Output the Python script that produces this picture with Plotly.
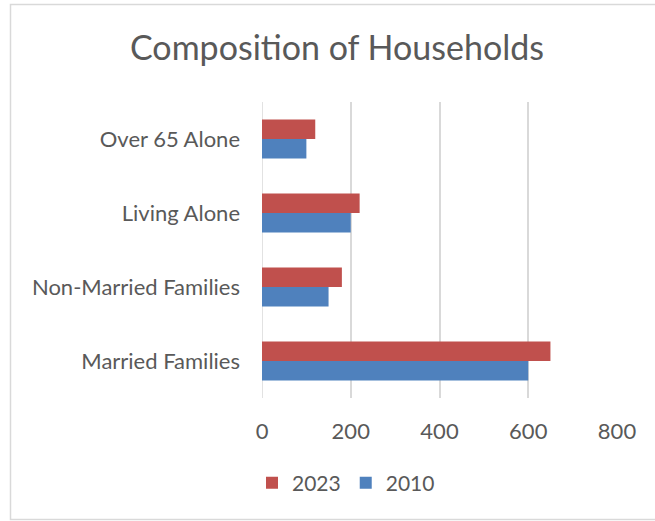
import plotly.graph_objects as go

categories = ["Married Families", "Non-Married Families", "Living Alone", "Over 65 Alone"]
values_2010 = [600, 150, 200, 100]
values_2023 = [650, 180, 220, 120]
x_ticks = [0, 200, 400, 600, 800]

W, H = 655, 521
L, R, T, B = 262, 38, 102, 123
pw, ph = W - L - R, H - T - B

def px_x(p):
    return (p - L) / pw

def px_y(p):
    return 1 - (p - T) / ph

font_family = "Lato, Open Sans, sans-serif"
text_color = "#595959"
grid_color = "#D9D9D9"

fig = go.Figure()
fig.add_trace(go.Bar(y=categories, x=values_2010, name="2010", orientation="h",
                     marker=dict(color="#4F81BD", line=dict(width=0))))
fig.add_trace(go.Bar(y=categories, x=values_2023, name="2023", orientation="h",
                     marker=dict(color="#C0504D", line=dict(width=0))))

fig.update_layout(
    width=W, height=H,
    margin=dict(l=L, r=R, t=T, b=B, pad=0),
    paper_bgcolor="white", plot_bgcolor="white",
    barmode="group", bargap=0.47, bargroupgap=0,
    font=dict(family=font_family, color=text_color, size=22),
    title=dict(text="Composition of Households", x=337 / W, xref="container", xanchor="center",
               y=1 - 48 / H, yanchor="middle",
               font=dict(size=34, color=text_color, family=font_family)),
    showlegend=True,
    legend=dict(orientation="h", x=px_x(252), xanchor="left", y=px_y(483), yanchor="middle",
                traceorder="reversed", font=dict(size=21, color=text_color),
                itemwidth=30, bgcolor="rgba(0,0,0,0)"),
    xaxis=dict(range=[0, 800], tickvals=x_ticks, showgrid=True, gridcolor=grid_color,
               gridwidth=1.5, zeroline=False, showline=False, ticks="",
               ticklabelstandoff=18, tickfont=dict(size=22, color=text_color)),
    yaxis=dict(showgrid=False, zeroline=False, showline=False, ticks="",
               ticklabelstandoff=21, tickfont=dict(size=22, color=text_color)),
    shapes=[
        dict(type="rect", xref="paper", yref="paper",
             x0=px_x(10.5), x1=px_x(700), y0=px_y(519.5), y1=px_y(4.5),
             line=dict(color=grid_color, width=1.5), fillcolor="rgba(0,0,0,0)", layer="below"),
        dict(type="line", xref="x", yref="paper", x0=x_ticks[0], x1=x_ticks[0], y0=0, y1=1,
             line=dict(color=grid_color, width=1.5), layer="below"),
    ],
)

fig.write_html("out.html", config={"displayModeBar": False},
               post_script="document.body.style.margin='0';document.body.style.overflow='hidden';")
